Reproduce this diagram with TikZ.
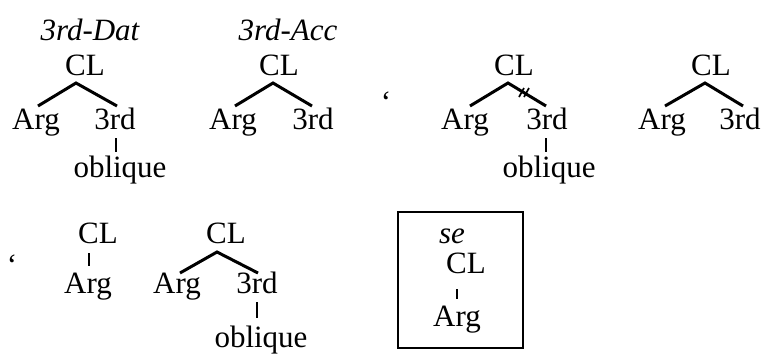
\documentclass[tikz,border=0pt]{standalone}
\usepackage{fontspec}
\setmainfont{Liberation Serif}
\begin{document}
\begin{tikzpicture}[x=1pt,y=-1pt,
  font=\fontsize{31pt}{37pt}\selectfont,
  lbl/.style={inner sep=0pt, anchor=base},
  br/.style={line width=3pt},
  tk/.style={line width=2pt},
  sl/.style={line width=1.7pt}]
\useasboundingbox (0,0) rectangle (763,354);
% tree 1
\node[lbl] (t1lab) at (90,40) {\itshape 3rd-Dat};
\node[lbl] (t1cl) at (85,75) {CL};
\node[lbl] (t1arg) at (36,129) {Arg};
\node[lbl] (t1rd) at (115,129) {3rd};
\node[lbl] (t1obl) at (120,177) {oblique};
\draw[br] ([xshift=2pt,yshift=23pt]t1arg.base) -- ([xshift=-9pt,yshift=-8pt]t1cl.base) -- ([xshift=2pt,yshift=23pt]t1rd.base);
\draw[tk] ([xshift=1pt,yshift=-9pt]t1rd.base) -- ([xshift=-4pt,yshift=25pt]t1obl.base);
% tree 2
\node[lbl] (t2lab) at (288,40) {\itshape 3rd-Acc};
\node[lbl] (t2cl) at (279,75) {CL};
\node[lbl] (t2arg) at (233,129) {Arg};
\node[lbl] (t2rd) at (313,129) {3rd};
\draw[br] ([xshift=2pt,yshift=23pt]t2arg.base) -- ([xshift=-6pt,yshift=-8pt]t2cl.base) -- ([xshift=-1pt,yshift=23pt]t2rd.base);
% quote 1
\node[lbl] (q1) at (386,112) {‘};
% tree 3
\node[lbl] (t3cl) at (514,75) {CL};
\node[lbl] (t3arg) at (465,129) {Arg};
\node[lbl] (t3rd) at (547,129) {3rd};
\node[lbl] (t3obl) at (549,177) {oblique};
\coordinate (t3ap) at ([xshift=-6pt,yshift=-8pt]t3cl.base);
\draw[br] ([xshift=5pt,yshift=23pt]t3arg.base) -- (t3ap) -- ([xshift=-1pt,yshift=23pt]t3rd.base);
\draw[sl] ([xshift=11pt,yshift=-14pt]t3ap) -- ([xshift=16pt,yshift=-5pt]t3ap);
\draw[sl] ([xshift=16pt,yshift=-14pt]t3ap) -- ([xshift=21pt,yshift=-5pt]t3ap);
\draw[tk] ([xshift=-1pt,yshift=-9pt]t3rd.base) -- ([xshift=-3pt,yshift=25pt]t3obl.base);
% tree 4
\node[lbl] (t4cl) at (711,75) {CL};
\node[lbl] (t4arg) at (662,129) {Arg};
\node[lbl] (t4rd) at (740,129) {3rd};
\draw[br] ([xshift=3pt,yshift=23pt]t4arg.base) -- ([xshift=-6pt,yshift=-8pt]t4cl.base) -- ([xshift=3pt,yshift=23pt]t4rd.base);
% quote 2
\node[lbl] (q2) at (12,275) {‘};
% tree 5
\node[lbl] (t5cl) at (98,243) {CL};
\node[lbl] (t5arg) at (88,293) {Arg};
\draw[tk] ([xshift=-9pt,yshift=-10pt]t5cl.base) -- ([xshift=1pt,yshift=27pt]t5arg.base);
% tree 6
\node[lbl] (t6cl) at (226,243) {CL};
\node[lbl] (t6arg) at (177,293) {Arg};
\node[lbl] (t6rd) at (257,293) {3rd};
\node[lbl] (t6obl) at (261,347) {oblique};
\draw[br] ([xshift=3pt,yshift=20pt]t6arg.base) -- ([xshift=-9pt,yshift=-9pt]t6cl.base) -- ([xshift=1pt,yshift=20pt]t6rd.base);
\draw[tk] ([xshift=0pt,yshift=-9pt]t6rd.base) -- ([xshift=-4pt,yshift=29pt]t6obl.base);
% boxed tree
\draw[line width=2.5pt] (398,212) rectangle (523,348);
\node[lbl] (t7se) at (452,243) {\itshape se};
\node[lbl] (t7cl) at (466,273) {CL};
\node[lbl] (t7arg) at (457,326) {Arg};
\draw[tk] ([xshift=-9pt,yshift=-16pt]t7cl.base) -- ([xshift=0pt,yshift=27pt]t7arg.base);
\end{tikzpicture}
\end{document}
